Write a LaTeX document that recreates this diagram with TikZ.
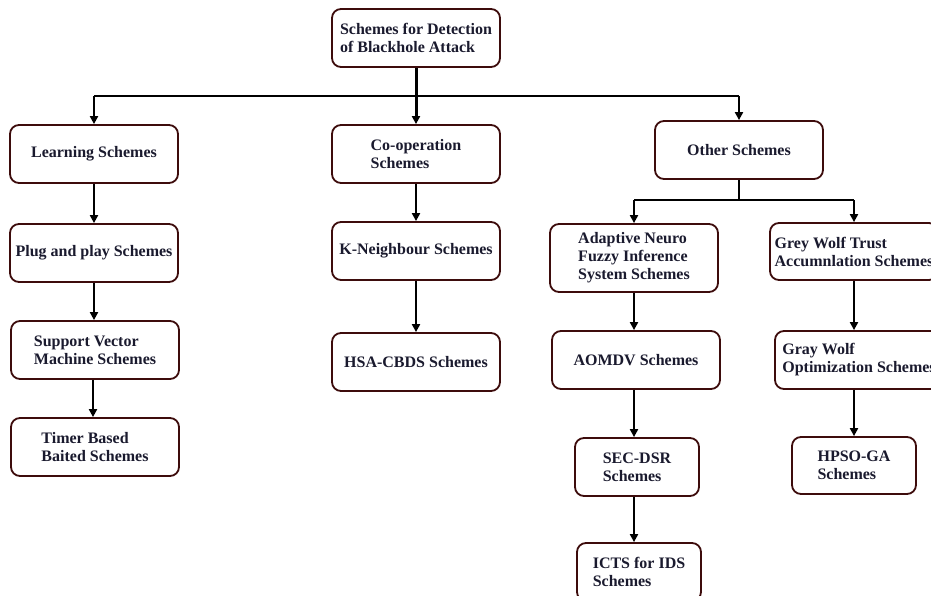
\documentclass[tikz,border=0pt]{standalone}
\usepackage{fontspec}
\setmainfont{Liberation Serif}
\usetikzlibrary{arrows.meta}
\definecolor{boxline}{HTML}{3D0C0C}
\definecolor{boxtext}{HTML}{1A1A2E}
\begin{document}
\begin{tikzpicture}[x=1pt,y=-1pt,
  box/.style={draw=boxline, line width=1.8pt, rounded corners=9pt, fill=white,
    inner sep=0pt, align=left, text=boxtext,
    font=\fontsize{16}{18}\selectfont\bfseries,
    minimum width=168pt, minimum height=58pt},
  narrow/.style={minimum width=124pt},
  wire/.style={line width=2pt, black},
  conn/.style={line width=2.2pt, black, -{Triangle[length=8pt,width=8pt]}}]
\useasboundingbox (0,0) rectangle (931,596);
\clip (0,0) rectangle (931,596);

% root
\node[box] (root) at (416,38) {Schemes for Detection\\of Blackhole Attack};

% first level
\node[box] (learn) at (94,154) {Learning Schemes};
\node[box] (coop) at (416,154) {Co-operation\\Schemes};
\node[box] (other) at (739,150) {Other Schemes};

% learning branch
\node[box] (plug) at (94,253) {Plug and play Schemes};
\node[box] (svm) at (95,350) {Support Vector\\Machine Schemes};
\node[box] (timer) at (95,447) {Timer Based\\Baited Schemes};

% co-operation branch
\node[box] (kn) at (416,251) {K-Neighbour Schemes};
\node[box] (hsa) at (416,362) {HSA-CBDS Schemes};

% other branch
\node[box, minimum height=68pt] (anfis) at (634,258) {Adaptive Neuro\\Fuzzy Inference\\System Schemes};
\node[box, minimum height=57pt] (grey) at (854,251.5) {Grey Wolf Trust\\Accumnlation Schemes};
\node[box] (aomdv) at (636,360) {AOMDV Schemes};
\node[box, narrow] (secdsr) at (637,467) {SEC-DSR\\Schemes};
\node[box, narrow] (icts) at (639,572) {ICTS for IDS\\Schemes};
\node[box] (gwo) at (859,360) {Gray Wolf\\Optimization Schemes};
\node[box, narrow, minimum height=57pt] (hpso) at (854,465.5) {HPSO-GA\\Schemes};

% bus under the root
\coordinate (busL) at (94,96);
\coordinate (busR) at (739,96);
\draw[wire] (busL) -- (busR);
\draw[conn, line width=3pt] (root.south) -- (coop.north);
\draw[conn] (busL) -- (learn.north);
\draw[conn] (busR) -- (other.north);

% learning chain
\draw[conn] (learn.south) -- (learn.south |- plug.north);
\draw[conn] (plug.south) -- (plug.south |- svm.north);
\draw[conn] ([xshift=-2pt]svm.south) -- ([xshift=-2pt]svm.south |- timer.north);

% co-operation chain
\draw[conn] (coop.south) -- (coop.south |- kn.north);
\draw[conn] (kn.south) -- (kn.south |- hsa.north);

% other branch split
\coordinate (splitL) at (634,200);
\coordinate (splitR) at (854,200);
\draw[wire] (other.south) -- (other.south |- splitL);
\draw[wire] (splitL) -- (splitR);
\draw[conn] (splitL) -- (anfis.north);
\draw[conn] (splitR) -- (grey.north);

% adaptive neuro chain
\draw[conn] (anfis.south) -- (anfis.south |- aomdv.north);
\draw[conn] ([xshift=-2pt]aomdv.south) -- ([xshift=-2pt]aomdv.south |- secdsr.north);
\draw[conn] ([xshift=-3pt]secdsr.south) -- ([xshift=-3pt]secdsr.south |- icts.north);

% grey wolf chain
\draw[conn] (grey.south) -- (grey.south |- gwo.north);
\draw[conn] (hpso.north |- gwo.south) -- (hpso.north);
\end{tikzpicture}
\end{document}
